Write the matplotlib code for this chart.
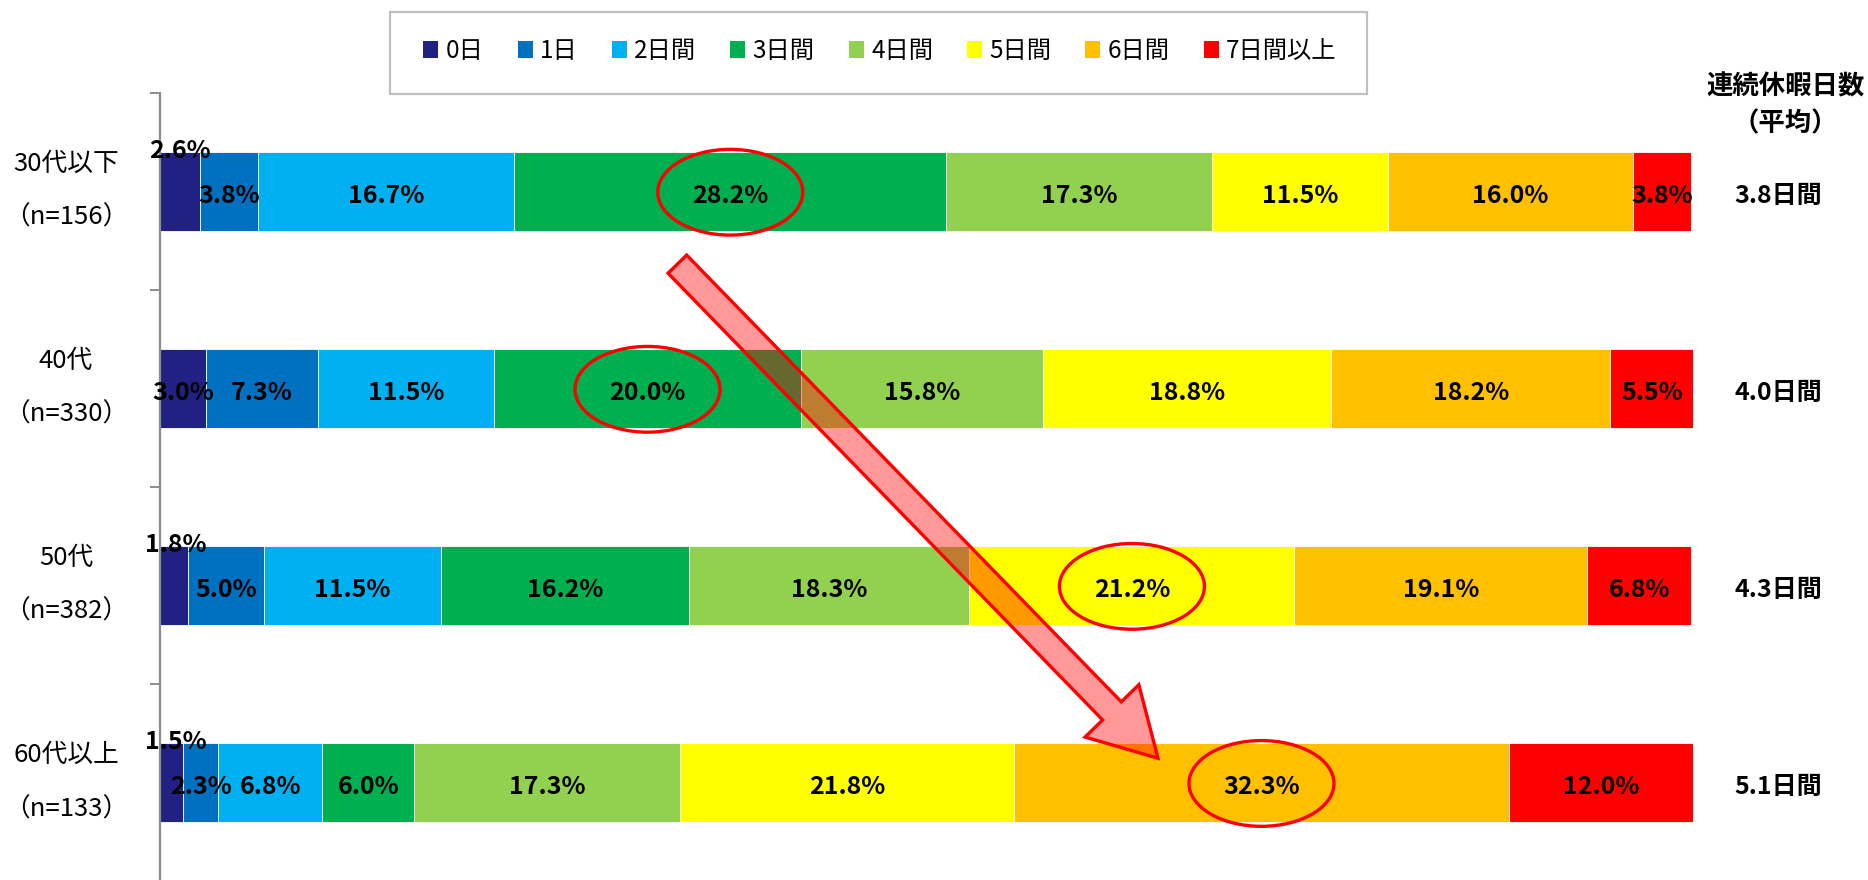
import numpy as np
import matplotlib
matplotlib.use("Agg")
import matplotlib.pyplot as plt
from matplotlib.patches import Rectangle, Ellipse, FancyArrow, Patch
from matplotlib.transforms import blended_transform_factory, IdentityTransform
from matplotlib.font_manager import FontProperties

FAM = ['Noto Sans CJK JP', 'DejaVu Sans']
plt.rcParams['font.family'] = FAM

# ---------------- data ----------------
groups = ['30代以下', '40代', '50代', '60代以上']
sample_n = ['（n=156）', '（n=330）', '（n=382）', '（n=133）']
categories = ['0日', '1日', '2日間', '3日間', '4日間', '5日間', '6日間', '7日間以上']
colors = ['#212184', '#0070C0', '#00B0F0', '#00B050', '#92D050', '#FFFF00', '#FFC000', '#FF0000']
share_30s = [2.6, 3.8, 16.7, 28.2, 17.3, 11.5, 16.0, 3.8]
share_40s = [3.0, 7.3, 11.5, 20.0, 15.8, 18.8, 18.2, 5.5]
share_50s = [1.8, 5.0, 11.5, 16.2, 18.3, 21.2, 19.1, 6.8]
share_60s = [1.5, 2.3, 6.8, 6.0, 17.3, 21.8, 32.3, 12.0]
avg_days = [3.8, 4.0, 4.3, 5.1]
highlight = [3, 3, 5, 6]          # segment circled in each row
avg_title = ['連続休暇日数', '（平均）']

values = np.array([share_30s, share_40s, share_50s, share_60s])

# ---------------- figure ----------------
W, H = 1868, 880
fig = plt.figure(figsize=(W / 100, H / 100), dpi=100)
ax = fig.add_axes([160 / W, 1 - 881 / H, 1533 / W, (881 - 92.7) / H])
ax.set_xlim(0, 100)
ax.set_ylim(len(groups) - 0.5, -0.5)

bar_h = 0.4
dy_txt = 0.022   # small downward nudge so digits sit on the bar centre
ypos = np.arange(len(groups))
left = np.zeros(len(groups))
for j, (cat, col) in enumerate(zip(categories, colors)):
    ax.barh(ypos, values[:, j], left=left, height=bar_h, color=col,
            edgecolor='white', linewidth=0.6, zorder=2)
    for i in range(len(groups)):
        v = values[i, j]
        cx = left[i] + v / 2
        if j == 0 and v < 2.8:
            ax.text(max(cx, 1.0), ypos[i] - bar_h / 2 - 0.005, f"{v:.1f}%",
                    ha='center', va='center', fontsize=18, fontweight='bold',
                    color='black', zorder=6)
        else:
            ax.text(cx, ypos[i] + dy_txt, f"{v:.1f}%", ha='center', va='center',
                    fontsize=18, fontweight='bold', color='black', zorder=6)
    left = left + values[:, j]

# highlight ellipses
for i, j in enumerate(highlight):
    cx = values[i, :j].sum() + values[i, j] / 2
    ax.add_patch(Ellipse((cx, ypos[i] + 0.005), width=9.46, height=0.435, fill=False,
                         edgecolor='#FF0000', linewidth=2.4, zorder=5))

# axis styling
for s in ['top', 'right', 'bottom']:
    ax.spines[s].set_visible(False)
ax.spines['left'].set_color('#8C8C8C')
ax.spines['left'].set_linewidth(1.6)
ax.set_xticks([])
ax.set_yticks(np.arange(-0.5, len(groups) + 0.5, 1.0))
ax.set_yticklabels([])
ax.tick_params(axis='y', length=7.5, width=1.4, color='#8C8C8C', direction='out')

# category labels (two lines)
btr = blended_transform_factory(fig.transFigure, ax.transData)
for i, (g, n) in enumerate(zip(groups, sample_n)):
    fig.text(66 / W, ypos[i] - 0.14, g, transform=btr, ha='center', va='center',
             fontsize=18.5, color='#000000')
    fig.text(66 / W, ypos[i] + 0.135, n, transform=btr, ha='center', va='center',
             fontsize=18.5, color='#000000')

# average-days column
fig.text(1785 / W, 1 - 87 / H, avg_title[0], ha='center', va='center',
         fontsize=19, fontweight='bold')
fig.text(1785 / W, 1 - 124 / H, avg_title[1], ha='center', va='center',
         fontsize=19, fontweight='bold')
for i, d in enumerate(avg_days):
    fig.text(1778 / W, ypos[i] + dy_txt, f"{d:.1f}日間", transform=btr, ha='center',
             va='center', fontsize=18, fontweight='bold')

# legend
handles = [Patch(facecolor=c, edgecolor='none') for c in colors]
fig.legend(handles, categories, loc='center', bbox_to_anchor=(880 / W, 1 - 51 / H),
           ncol=len(categories), frameon=False,
           prop=FontProperties(family=FAM, size=17.5),
           handlelength=0.62, handleheight=0.75, handletextpad=0.3,
           columnspacing=1.4)
fig.add_artist(Rectangle((389.6 / W, 1 - 94 / H), (1366.5 - 389.6) / W, (94 - 12) / H,
                         transform=fig.transFigure, fill=False,
                         edgecolor='#C0C0C0', linewidth=1.6))

# big trend arrow (from the 30s row down to the 60s row)
p0 = ax.transData.transform((33.75, 0.37))
p1 = ax.transData.transform((65.1, 2.877))
arrow = FancyArrow(p0[0], p0[1], p1[0] - p0[0], p1[1] - p0[1], width=26,
                   head_width=75, head_length=66, length_includes_head=True,
                   facecolor=(1, 0, 0, 0.4), edgecolor='#FF0000', linewidth=2.4,
                   transform=IdentityTransform(), zorder=4)
fig.add_artist(arrow)

fig.savefig('out.png', dpi=100, facecolor='white')
